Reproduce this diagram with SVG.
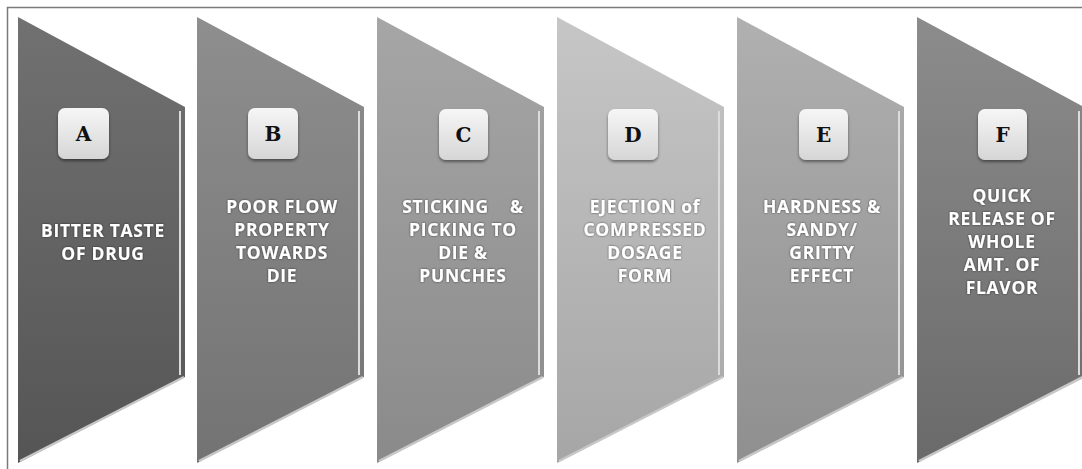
<svg xmlns="http://www.w3.org/2000/svg" width="1082" height="469" viewBox="0 0 1082 469">
<defs>
<linearGradient id="gA" x1="0" y1="0" x2="0" y2="1"><stop offset="0" stop-color="#717171"/><stop offset="1" stop-color="#555555"/></linearGradient>
<linearGradient id="gB" x1="0" y1="0" x2="0" y2="1"><stop offset="0" stop-color="#8e8e8e"/><stop offset="1" stop-color="#737373"/></linearGradient>
<linearGradient id="gC" x1="0" y1="0" x2="0" y2="1"><stop offset="0" stop-color="#a6a6a6"/><stop offset="1" stop-color="#8a8a8a"/></linearGradient>
<linearGradient id="gD" x1="0" y1="0" x2="0" y2="1"><stop offset="0" stop-color="#c6c6c6"/><stop offset="1" stop-color="#a6a6a6"/></linearGradient>
<linearGradient id="gE" x1="0" y1="0" x2="0" y2="1"><stop offset="0" stop-color="#b0b0b0"/><stop offset="1" stop-color="#8f8f8f"/></linearGradient>
<linearGradient id="gF" x1="0" y1="0" x2="0" y2="1"><stop offset="0" stop-color="#8c8c8c"/><stop offset="1" stop-color="#6a6a6a"/></linearGradient>
<linearGradient id="gBox" x1="0" y1="0" x2="0" y2="1"><stop offset="0" stop-color="#f6f6f6"/><stop offset="1" stop-color="#d6d6d6"/></linearGradient>
<filter id="sh" x="-20%" y="-20%" width="140%" height="150%"><feDropShadow dx="0" dy="2" stdDeviation="1.5" flood-color="#000" flood-opacity="0.45"/></filter>
<filter id="tsh" x="-10%" y="-20%" width="120%" height="140%"><feDropShadow dx="0" dy="0" stdDeviation="0.8" flood-color="#000" flood-opacity="0.6"/></filter>
<path id="shape" d="M0,17 L167,107 L167,377 L0,463 Z"/>
</defs>
<style>
.edge{fill:none;stroke:#dcdcdc;stroke-width:2}
.bedge{fill:none;stroke:#c8c8c8;stroke-width:2.5}
.box{fill:url(#gBox);filter:url(#sh)}
.let{font-family:"DejaVu Serif","Liberation Serif",serif;font-weight:bold;font-size:20px;fill:#111;text-anchor:middle}
.lbl{font-family:"Open Sans","Liberation Sans",sans-serif;font-weight:700;font-size:17.5px;letter-spacing:0.7px;fill:#fff;text-anchor:middle;filter:url(#tsh)}
</style>
<rect x="0" y="0" width="1082" height="469" fill="#fff"/>
<path d="M7.5,469 V7.5 H1082" fill="none" stroke="#7a7a7a" stroke-width="1.5"/>

<g id="nodeA" transform="translate(18,0)">
<use href="#shape" fill="url(#gA)"/>
<line class="edge" x1="162" y1="111" x2="162" y2="375"/>
<line class="bedge" x1="2" y1="461" x2="166" y2="377"/>
<rect class="box" x="40" y="108" width="51" height="51" rx="7"/>
<text class="let" x="65.5" y="141">A</text>
<text class="lbl"><tspan x="85" y="237">BITTER TASTE</tspan><tspan x="85" y="260">OF DRUG</tspan></text>
</g>

<g id="nodeB" transform="translate(197,0)">
<use href="#shape" fill="url(#gB)"/>
<line class="edge" x1="162" y1="111" x2="162" y2="375"/>
<line class="bedge" x1="2" y1="461" x2="166" y2="377"/>
<rect class="box" x="51" y="108" width="50" height="51" rx="7"/>
<text class="let" x="76" y="141">B</text>
<text class="lbl"><tspan x="85" y="213">POOR FLOW</tspan><tspan x="85" y="236">PROPERTY</tspan><tspan x="85" y="259">TOWARDS</tspan><tspan x="85" y="282">DIE</tspan></text>
</g>

<g id="nodeC" transform="translate(377,0)">
<use href="#shape" fill="url(#gC)"/>
<line class="edge" x1="162" y1="111" x2="162" y2="375"/>
<line class="bedge" x1="2" y1="461" x2="166" y2="377"/>
<rect class="box" x="62" y="109" width="49" height="51" rx="7"/>
<text class="let" x="86.5" y="142">C</text>
<text class="lbl"><tspan x="86" y="213" xml:space="preserve">STICKING    &amp;</tspan><tspan x="86" y="236">PICKING TO</tspan><tspan x="86" y="259">DIE &amp;</tspan><tspan x="86" y="282">PUNCHES</tspan></text>
</g>

<g id="nodeD" transform="translate(557,0)">
<use href="#shape" fill="url(#gD)"/>
<line class="edge" x1="162" y1="111" x2="162" y2="375"/>
<line class="bedge" x1="2" y1="461" x2="166" y2="377"/>
<rect class="box" x="51" y="109" width="50" height="51" rx="7"/>
<text class="let" x="76" y="142">D</text>
<text class="lbl"><tspan x="88" y="213">EJECTION of</tspan><tspan x="88" y="236">COMPRESSED</tspan><tspan x="88" y="259">DOSAGE</tspan><tspan x="88" y="282">FORM</tspan></text>
</g>

<g id="nodeE" transform="translate(737,0)">
<use href="#shape" fill="url(#gE)"/>
<line class="edge" x1="162" y1="111" x2="162" y2="375"/>
<line class="bedge" x1="2" y1="461" x2="166" y2="377"/>
<rect class="box" x="62" y="109" width="49" height="51" rx="7"/>
<text class="let" x="86.5" y="142">E</text>
<text class="lbl"><tspan x="85" y="213">HARDNESS &amp;</tspan><tspan x="85" y="236">SANDY/</tspan><tspan x="85" y="259">GRITTY</tspan><tspan x="85" y="282">EFFECT</tspan></text>
</g>

<g id="nodeF" transform="translate(917,0)">
<use href="#shape" fill="url(#gF)"/>
<line class="edge" x1="162" y1="111" x2="162" y2="375"/>
<line class="bedge" x1="2" y1="461" x2="166" y2="377"/>
<rect class="box" x="61" y="109" width="49" height="51" rx="7"/>
<text class="let" x="85.5" y="142">F</text>
<text class="lbl"><tspan x="85" y="202">QUICK</tspan><tspan x="85" y="225">RELEASE OF</tspan><tspan x="85" y="248">WHOLE</tspan><tspan x="85" y="271">AMT. OF</tspan><tspan x="85" y="294">FLAVOR</tspan></text>
</g>

<g id="connectors"></g>
</svg>
